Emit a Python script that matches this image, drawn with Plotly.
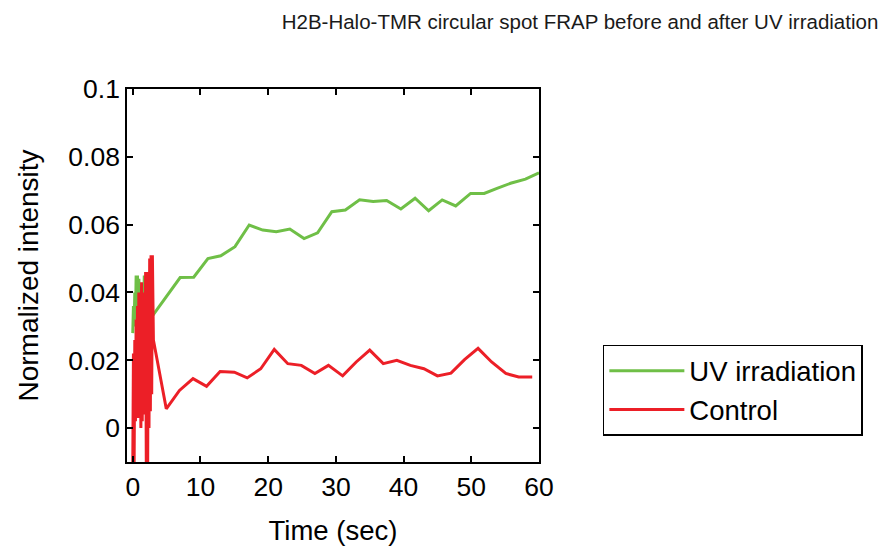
import plotly.graph_objects as go

# ---- data ----
uv_time = [0.0, 0.1, 0.2, 0.3, 0.4, 0.5, 0.6, 0.7, 0.8, 0.9, 1.0, 1.1, 1.2, 1.3, 1.4,
           1.5, 1.6, 1.7, 1.8, 1.9, 2.0, 2.1, 2.2, 2.3, 2.4, 2.5, 2.6, 2.7, 2.8,
           7.0, 9.0, 11.1, 13.0, 15.1, 17.2, 19.2, 21.2, 23.2, 25.3, 27.3, 29.4,
           31.4, 33.5, 35.5, 37.5, 39.6, 41.7, 43.7, 45.7, 47.7, 49.9, 51.9, 53.8,
           55.8, 58.0, 60.0]
uv_values = [0.028, 0.036, 0.030, 0.040, 0.032, 0.045, 0.035, 0.045, 0.030, 0.044,
             0.033, 0.042, 0.030, 0.040, 0.031, 0.036, 0.030, 0.045, 0.033, 0.045,
             0.032, 0.045, 0.030, 0.040, 0.031, 0.036, 0.030, 0.034, 0.0328,
             0.0444, 0.0445, 0.0500, 0.0508, 0.0535, 0.0599, 0.0584, 0.0579, 0.0587,
             0.0559, 0.0576, 0.0638, 0.0643, 0.0673, 0.0668, 0.0671, 0.0646, 0.0678,
             0.0641, 0.0673, 0.0655, 0.0692, 0.0692, 0.0707, 0.0722, 0.0734, 0.0753]

ctrl_time = [0.0, 0.1, 0.2, 0.3, 0.4, 0.5, 0.6, 0.7, 0.8, 0.9, 1.0, 1.1, 1.2, 1.3,
             1.4, 1.5, 1.6, 1.7, 1.8, 1.9, 2.0, 2.1, 2.2, 2.3, 2.4, 2.5, 2.6, 2.7,
             2.8, 2.9, 3.05, 4.95, 6.9, 8.9, 10.9, 12.9, 15.0, 16.9, 18.9, 20.9,
             22.9, 24.9, 26.9, 28.9, 31.0, 33.0, 35.0, 37.0, 39.0, 41.0, 43.0,
             45.0, 47.0, 49.0, 51.0, 53.0, 55.1, 57.0, 59.0]
ctrl_values = [-0.012, 0.022, -0.012, 0.026, 0.002, 0.032, 0.004, 0.036, 0.003, 0.040,
               0.005, 0.030, 0.000, 0.043, 0.002, 0.028, 0.004, 0.040, 0.005, 0.046,
               -0.012, 0.032, -0.012, 0.046, 0.000, 0.050, 0.005, 0.051, 0.010, 0.051,
               0.026, 0.0057, 0.0111, 0.0146, 0.0123, 0.0167, 0.0165, 0.0148, 0.0175,
               0.0232, 0.0190, 0.0185, 0.0161, 0.0185, 0.0154, 0.0195, 0.0230, 0.0190,
               0.0200, 0.0185, 0.0175, 0.0154, 0.0162, 0.0202, 0.0235, 0.0195, 0.0161,
               0.0151, 0.0151]

x_ticks = [0, 10, 20, 30, 40, 50, 60]
x_tick_labels = ["0", "10", "20", "30", "40", "50", "60"]
y_ticks = [0, 0.02, 0.04, 0.06, 0.08, 0.1]
y_tick_labels = ["0", "0.02", "0.04", "0.06", "0.08", "0.1"]

FONT = "Liberation Sans, Arial, Helvetica, sans-serif"

fig = go.Figure()
fig.add_trace(go.Scatter(x=uv_time, y=uv_values, mode="lines", name="UV irradiation",
                         line=dict(color="#6fbf47", width=3)))
fig.add_trace(go.Scatter(x=ctrl_time, y=ctrl_values, mode="lines", name="Control",
                         line=dict(color="#ec1f27", width=3)))

axis_common = dict(showline=True, linecolor="black", linewidth=1.5, mirror="ticks",
                   ticks="inside", ticklen=6, tickwidth=1.5, tickcolor="black",
                   showgrid=False, zeroline=False, automargin=False,
                   tickfont=dict(family=FONT, size=26.5, color="black"))

fig.update_xaxes(range=[-0.85, 60], tickvals=x_ticks, ticktext=x_tick_labels,
                 title=dict(text="Time (sec)", font=dict(family=FONT, size=27.5, color="black"),
                            standoff=20),
                 **axis_common)
fig.update_yaxes(range=[-0.01, 0.1], tickvals=y_ticks, ticktext=y_tick_labels,
                 title=dict(text="Normalized intensity", font=dict(family=FONT, size=28, color="black"),
                            standoff=22),
                 **axis_common)

fig.update_layout(
    width=882, height=547,
    margin=dict(l=127, r=343, t=89, b=85, autoexpand=False),
    paper_bgcolor="white", plot_bgcolor="white",
    title=dict(text="H2B-Halo-TMR circular spot FRAP before and after UV irradiation",
               font=dict(family=FONT, size=20.5, color="#1a1a1a"),
               x=580/882, xanchor="center", y=1 - 22/547, yanchor="middle"),
    legend=dict(x=1.155, xanchor="left", y=0.314, yanchor="top",
                bordercolor="black", borderwidth=1.5, bgcolor="white",
                font=dict(family=FONT, size=27.5, color="black"),
                tracegroupgap=0, itemwidth=75),
    showlegend=True,
)

fig.write_html("out.html", config={"displayModeBar": False},
               post_script="document.body.style.margin='0';")
